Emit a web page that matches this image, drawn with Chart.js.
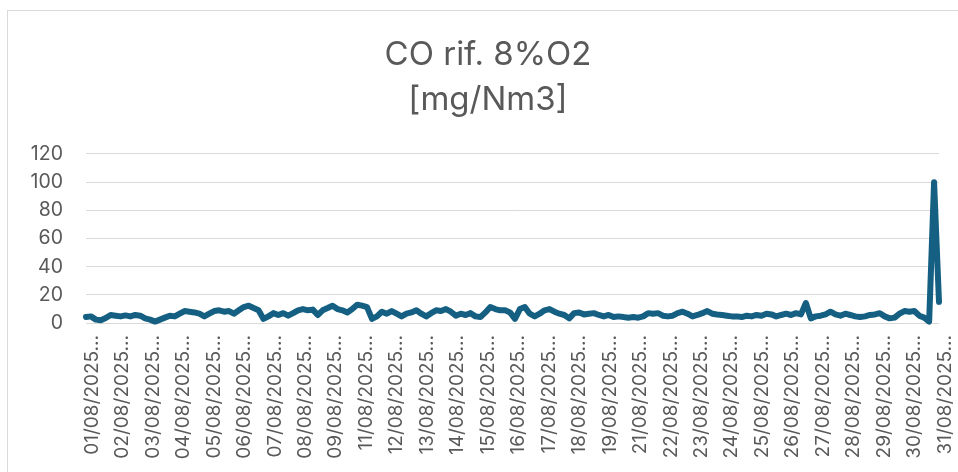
<!DOCTYPE html>
<html>
<head>
<meta charset="utf-8">
<script src="https://cdn.jsdelivr.net/npm/chart.js@4"></script>
<style>
  html, body { margin: 0; padding: 0; background: #fff; }
  #frame { position: absolute; left: 7px; top: 10px; width: 1000px; height: 1000px; border: 1px solid #d9d9d9; box-sizing: border-box; }
  #wrap { position: absolute; left: 0; top: 0; width: 958px; height: 472px; }
</style>
</head>
<body>
<div id="frame"></div>
<div id="wrap"><canvas id="c" width="958" height="472"></canvas></div>
<script>
// ---- data ----
const titleLines = ['CO rif. 8%O2', '[mg/Nm3]'];

const xTickLabels = [
  '01/08/2025...', '02/08/2025...', '03/08/2025...', '04/08/2025...', '05/08/2025...',
  '06/08/2025...', '07/08/2025...', '08/08/2025...', '09/08/2025...', '11/08/2025...',
  '12/08/2025...', '13/08/2025...', '14/08/2025...', '15/08/2025...', '16/08/2025...',
  '17/08/2025...', '18/08/2025...', '19/08/2025...', '21/08/2025...', '22/08/2025...',
  '23/08/2025...', '24/08/2025...', '25/08/2025...', '26/08/2025...', '27/08/2025...',
  '28/08/2025...', '29/08/2025...', '30/08/2025...', '31/08/2025...'
];

const yTicks = [0, 20, 40, 60, 80, 100, 120];

const coPart1 = [4.2, 4.7, 2.4, 1.9, 3.5, 5.7, 5.2, 4.7, 5.4, 4.7, 5.7, 5.2, 3.3, 2.4, 1.0, 2.4, 3.8, 5.2, 4.7, 6.6,
  8.5, 8.0, 7.5, 6.6, 4.7, 6.6, 8.5, 9.0, 8.0, 8.5, 6.6, 9.0, 11.3, 12.3, 10.6, 9.0, 2.9, 4.7, 7.0, 5.7,
  7.0, 5.2, 7.0, 9.0];
const coPart2 = [9.9, 9.0, 9.5, 5.7, 9.0, 10.6, 12.3, 9.9, 9.0, 7.5, 9.9, 13.0, 12.3, 11.3, 2.9, 4.7, 8.0, 6.6, 8.5, 6.6,
  4.7, 6.6, 7.5, 9.0, 6.6, 4.7, 7.0, 9.0, 8.5, 9.9, 8.0, 5.2, 6.6, 5.7, 7.0, 4.7, 4.2, 7.5, 11.3, 9.9,
  9.0];
const coPart3 = [9.0, 7.5, 2.9, 9.9, 11.3, 6.6, 4.7, 6.6, 9.0, 9.9, 8.0, 6.6, 5.7, 3.3, 7.0, 7.5, 6.1, 6.6, 7.0, 5.7,
  4.7, 5.7, 4.2, 4.7, 4.2, 3.8, 4.2, 3.8, 4.7, 7.0, 6.6, 7.0, 5.2, 4.7, 5.2, 7.0, 8.0, 6.6, 4.7, 5.7,
  7.0, 8.5, 6.6];
const coPart4 = [6.1, 5.7, 5.2, 4.7, 4.7, 4.2, 5.2, 4.7, 5.7, 5.2, 6.6, 6.1, 4.7, 5.7, 6.6, 5.7, 7.0, 6.1, 14.2, 3.3,
  4.7, 5.2, 6.1, 8.0, 6.1, 5.2, 6.6, 5.7, 4.7, 4.2, 4.7, 5.7, 6.1, 7.0, 4.7, 3.3, 3.8, 6.6, 8.5, 8.0,
  8.5, 5.2, 3.8, 1.0, 100, 15];

const coValues = [].concat(coPart1, coPart2, coPart3, coPart4);

// ---- chart ----
const N = coValues.length;
const textColor = '#595959';
const gridColor = '#d9d9d9';
const lineColor = '#156082';

Chart.defaults.font.family = 'Inter, "Liberation Sans", sans-serif';
Chart.defaults.color = textColor;

new Chart(document.getElementById('c'), {
  type: 'line',
  data: {
    datasets: [{
      data: coValues.map((v, i) => ({ x: i, y: v })),
      borderColor: lineColor,
      backgroundColor: lineColor,
      borderWidth: 6,
      borderJoinStyle: 'round',
      borderCapStyle: 'round',
      pointRadius: 0,
      tension: 0,
      fill: false,
      clip: false
    }]
  },
  options: {
    responsive: false,
    animation: false,
    devicePixelRatio: 1,
    layout: { autoPadding: false, padding: { left: 18, right: 0, top: 0, bottom: 0 } },
    plugins: {
      legend: { display: false },
      tooltip: { enabled: false },
      title: {
        display: true,
        text: titleLines,
        color: textColor,
        font: { size: 33, weight: 'normal', lineHeight: 1.3636 },
        padding: { top: 32.5, bottom: 31.5 }
      }
    },
    scales: {
      x: {
        type: 'linear',
        min: 0,
        max: N - 1,
        grid: { display: false, drawTicks: false },
        border: { display: false },
        afterBuildTicks: (scale) => {
          scale.ticks = xTickLabels.map((_, j) => ({ value: j * (N - 1) / (xTickLabels.length - 1) }));
        },
        afterFit: (scale) => { scale.height = 149; scale.paddingLeft = 0; scale.paddingRight = 0; },
        ticks: {
          autoSkip: false,
          minRotation: 90,
          maxRotation: 90,
          padding: 12,
          labelOffset: 6,
          color: textColor,
          font: { size: 19 },
          callback: (v, i) => xTickLabels[i]
        }
      },
      y: {
        min: 0,
        max: 120,
        afterBuildTicks: (scale) => { scale.ticks = yTicks.map(v => ({ value: v })); },
        afterFit: (scale) => { scale.width = 68; scale.paddingTop = 0; scale.paddingBottom = 0; },
        grid: { color: gridColor, lineWidth: 1, drawTicks: false },
        border: { display: false },
        ticks: {
          padding: 23,
          color: textColor,
          font: { size: 19.5 }
        }
      },
      yRight: {
        position: 'right',
        display: true,
        grid: { display: false, drawTicks: false },
        border: { display: false },
        ticks: { display: false },
        afterFit: (scale) => { scale.width = 19; }
      }
    }
  }
});
</script>
</body>
</html>
